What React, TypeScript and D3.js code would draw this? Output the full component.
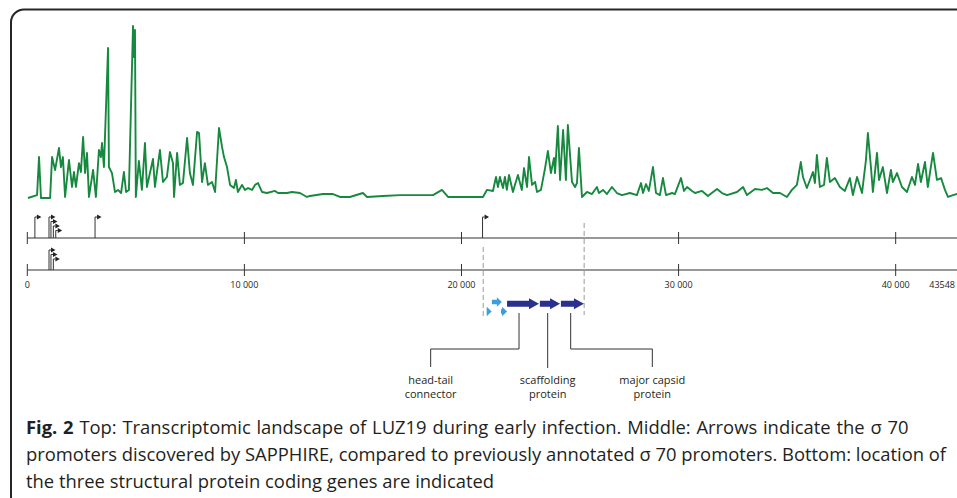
import React from 'react';
import * as d3 from 'd3';

const W = 957;
const H = 498;

const genomeLength = 43548;
const tickValues = [0, 10000, 20000, 30000, 40000];

// read-coverage trace of LUZ19 early infection: [position (kb), relative coverage %]
const coverage: [number, number][] = [
  [0.03, 0], [0.45, 1.7], [0.54, 23.8], [0.63, 0], [1.05, 0], [1.14, 23.8], [1.28, 16.3], [1.46, 29.1],
  [1.55, 18.0], [1.64, 23.8], [1.74, 0.6], [1.92, 22.1], [2.06, 6.4], [2.15, 15.1], [2.24, 6.4], [2.38, 20.3],
  [2.47, 15.1], [2.57, 35.5], [2.66, 14.5], [2.75, 26.2], [2.84, 0.6], [3.03, 16.3], [3.16, 0.6], [3.30, 27.9],
  [3.39, 23.8], [3.44, 32.0], [3.53, 18.0], [3.72, 87.2], [3.76, 18.0], [3.90, 14.5], [4.04, 3.5], [4.18, 4.7],
  [4.32, 2.9], [4.45, 15.1], [4.55, 3.5], [4.68, 4.7], [4.87, 100], [4.91, 82.0], [4.96, 97.7], [5.00, 0.6],
  [5.14, 21.5], [5.28, 4.7], [5.42, 32.0], [5.51, 6.4], [5.79, 22.7], [5.88, 6.4], [6.11, 27.9], [6.25, 9.3],
  [6.43, 12.2], [6.57, 26.7], [6.71, 20.3], [6.76, 0.6], [6.90, 26.2], [7.03, 7.6], [7.17, 8.7], [7.36, 34.9],
  [7.49, 14.5], [7.63, 7.6], [7.82, 38.4], [7.91, 37.8], [8.05, 9.3], [8.18, 20.3], [8.32, 7.6], [8.51, 9.3],
  [8.65, 3.5], [8.83, 40.7], [8.97, 29.7], [9.06, 23.8], [9.20, 18.0], [9.34, 7.6], [9.52, 5.8], [9.61, 10.5],
  [9.70, 3.5], [9.89, 7.6], [10.03, 4.7], [10.17, 5.8], [10.35, 4.7], [10.49, 7.6], [10.63, 8.7], [10.81, 3.5],
  [11.04, 2.9], [11.41, 4.1], [11.55, 2.9], [11.96, 2.9], [12.19, 3.5], [12.56, 2.9], [12.88, 0.6], [13.02, 1.2],
  [13.62, 2.3], [14.08, 2.3], [14.40, 0.6], [14.86, 0.6], [15.46, 2.9], [15.65, 0.6], [16.38, 1.2], [17.17, 1.7],
  [17.95, 1.7], [18.69, 1.7], [19.10, 4.7], [19.38, 0.6], [20.25, 0.6], [20.99, 0.6], [21.17, 4.7], [21.45, 4.1],
  [21.59, 12.2], [21.68, 6.4], [21.77, 12.2], [21.91, 5.8], [22.00, 12.2], [22.09, 4.7], [22.19, 13.4], [22.37, 3.5],
  [22.46, 7.6], [22.60, 13.4], [22.78, 4.7], [22.88, 17.4], [23.02, 6.4], [23.11, 23.8], [23.25, 7.6], [23.39, 9.3],
  [23.48, 3.5], [23.66, 4.7], [23.85, 17.4], [23.98, 27.3], [24.12, 14.5], [24.26, 23.3], [24.31, 14.5], [24.44, 41.9],
  [24.54, 10.5], [24.68, 39.5], [24.81, 10.5], [24.90, 42.4], [25.09, 9.3], [25.23, 6.4], [25.32, 8.7], [25.41, 29.1],
  [25.55, 0.6], [25.78, 3.5], [26.01, 2.3], [26.24, 6.4], [26.33, 2.9], [26.52, 4.7], [26.70, 2.3], [26.93, 6.4],
  [27.16, 2.9], [27.39, 1.7], [27.76, 2.9], [28.08, 1.7], [28.27, 8.7], [28.36, 2.9], [28.50, 8.1], [28.63, 4.1],
  [28.82, 18.0], [28.96, 2.9], [29.14, 1.7], [29.28, 11.6], [29.42, 1.7], [29.70, 2.9], [29.83, 2.3], [30.11, 11.6],
  [30.25, 4.1], [30.39, 6.4], [30.62, 4.1], [30.76, 2.9], [31.08, 4.1], [31.35, 1.2], [31.77, 5.2], [32.00, 2.9],
  [32.23, 1.7], [32.69, 3.5], [32.97, 6.4], [33.15, 1.7], [33.52, 5.2], [33.84, 4.7], [34.07, 5.8], [34.35, 2.9],
  [34.67, 2.9], [34.99, 0.6], [35.22, 4.7], [35.45, 7.6], [35.63, 20.9], [35.73, 12.2], [35.91, 5.8], [36.19, 15.1],
  [36.28, 8.7], [36.37, 25.0], [36.51, 6.4], [36.70, 7.6], [36.83, 23.3], [36.97, 9.3], [37.20, 11.6], [37.43, 6.4],
  [37.66, 4.1], [37.89, 11.6], [38.03, 1.7], [38.22, 12.2], [38.45, 2.9], [38.63, 22.1], [38.72, 37.8], [38.86, 18.0],
  [38.95, 3.5], [39.14, 26.2], [39.23, 10.5], [39.41, 18.0], [39.60, 2.9], [39.78, 16.3], [39.87, 9.3], [40.06, 14.5],
  [40.29, 6.4], [40.52, 3.5], [40.75, 12.2], [40.89, 7.6], [41.03, 19.8], [41.16, 9.3], [41.35, 20.9], [41.48, 6.4],
  [41.72, 26.2], [41.90, 10.5], [42.09, 11.6], [42.27, 4.7], [42.41, 0.6], [42.64, 1.7], [42.83, 2.3], [43.5, 2.3],
];

// sigma 70 promoter positions (kb)
const sapphirePromoters = [0.35, 1.0, 1.09, 1.2, 1.31, 3.12, 20.97];
const annotatedPromoters = [1.0, 1.09, 1.2];

// early genes upstream of the structural block (kb), row 0 = upper
const earlyGenes = [
  { start: 21.16, end: 21.39, row: 1 },
  { start: 21.40, end: 21.86, row: 0 },
  { start: 21.82, end: 22.10, row: 1 },
];

const structuralGenes = [
  { label: ['head-tail', 'connector'], start: 22.1, end: 23.57, anchor: 22.65, labelAt: 18.58 },
  { label: ['scaffolding', 'protein'], start: 23.61, end: 24.54, anchor: 23.97, labelAt: 23.97 },
  { label: ['major capsid', 'protein'], start: 24.58, end: 25.64, anchor: 25.03, labelAt: 28.79 },
];

const dashedMarks = [
  { pos: 21.0, y0: 247, y1: 317 },
  { pos: 25.65, y0: 223, y1: 315 },
];

const captionBold = 'Fig. 2';
const captionLines = [
  ' Top: Transcriptomic landscape of LUZ19 during early infection. Middle: Arrows indicate the σ 70',
  'promoters discovered by SAPPHIRE, compared to previously annotated σ 70 promoters. Bottom: location of',
  'the three structural protein coding genes are indicated',
];

const FONT = "'Open Sans', 'Noto Sans', sans-serif";
const INK = '#231f20';

const x = d3.scaleLinear().domain([0, genomeLength]).range([27.3, 972.7]);
const xk = (kb: number) => x(kb * 1000);
const y = d3.scaleLinear().domain([0, 100]).range([198, 26]);

const fmt = (v: number) => d3.format(',')(v).replace(/,/g, ' ');

function levels(list: number[]) {
  // stack promoters that sit close together
  const out: number[] = [];
  list.forEach((p, i) => {
    out.push(i > 0 && p - list[i - 1] < 0.5 ? out[i - 1] + 1 : 0);
  });
  return out;
}

function Track({ axisY, promoters, rise, ticks }: { axisY: number; promoters: number[]; rise: number; ticks: boolean }) {
  const lv = levels(promoters);
  return (
    <g>
      <line x1={x(0)} x2={W + 5} y1={axisY} y2={axisY} stroke="#333" strokeWidth={1.1} />
      {tickValues.map(t => (
        <line key={t} x1={x(t)} x2={x(t)} y1={axisY - 6} y2={axisY + 6} stroke="#333" strokeWidth={1} />
      ))}
      {promoters.map((p, i) => {
        const px = xk(p);
        const top = axisY - rise + lv[i] * 4.5;
        return (
          <g key={i}>
            <path d={`M${px},${axisY}V${top}H${px + 2}`} fill="none" stroke="#333" strokeWidth={1} />
            <path d={`M${px + 2},${top - 2.6}L${px + 6.5},${top}L${px + 2},${top + 2.6}Z`} fill="#222" />
          </g>
        );
      })}
      {ticks && tickValues.map(t => (
        <text key={t} x={x(t)} y={axisY + 17.5} textAnchor="middle" fontSize={9} fontFamily={FONT} fill={INK}>{fmt(t)}</text>
      ))}
      {ticks && (
        <text x={Math.min(x(genomeLength) - 10, W - 2)} y={axisY + 17.5} textAnchor="end" fontSize={9} fontFamily={FONT} fill={INK}>{genomeLength}</text>
      )}
    </g>
  );
}

function arrowPath(x0: number, x1: number, cy: number, bodyH: number, headH: number, headL: number) {
  const hx = Math.max(x0, x1 - headL);
  return `M${x0},${cy - bodyH}H${hx}V${cy - headH}L${x1},${cy}L${hx},${cy + headH}V${cy + bodyH}H${x0}Z`;
}

export default function App() {
  const line = d3.line<[number, number]>()
    .x(d => xk(d[0]))
    .y(d => y(d[1]))
    .curve(d3.curveLinear);

  const geneY = 303.8;

  return (
    <svg width={W} height={H} style={{ position: 'absolute', left: 0, top: 0, background: '#fff' }}>
      <rect x={11} y={9.5} width={1000} height={500} rx={13} fill="none" stroke="#262626" strokeWidth={2} />

      <path d={line(coverage) || ''} fill="none" stroke="#17893f" strokeWidth={1.9} strokeLinejoin="round" />

      <Track axisY={238} promoters={sapphirePromoters} rise={21} ticks={false} />
      <Track axisY={270} promoters={annotatedPromoters} rise={20} ticks={true} />

      {dashedMarks.map((d, i) => (
        <line key={i} x1={xk(d.pos)} x2={xk(d.pos)} y1={d.y0} y2={d.y1} stroke="#9a9a9a" strokeWidth={1} strokeDasharray="5,3" />
      ))}

      {earlyGenes.map((g, i) => (
        <path key={i} d={arrowPath(xk(g.start), xk(g.end), g.row === 0 ? 302 : 311.5, 2.3, 4.8, 5)} fill="#3b9fdc" />
      ))}

      {structuralGenes.map((g, i) => (
        <path key={i} d={arrowPath(xk(g.start), xk(g.end), geneY, 3, 5.5, 10)} fill="#2b2f8e" />
      ))}

      {structuralGenes.map((g, i) => {
        const ax = xk(g.anchor);
        const lx = xk(g.labelAt);
        const d = Math.abs(ax - lx) < 1
          ? `M${ax},313V368`
          : `M${ax},313V349H${lx}V367`;
        return (
          <g key={i}>
            <path d={d} fill="none" stroke="#333" strokeWidth={1} />
            {g.label.map((t, j) => (
              <text key={j} x={lx} y={384 + j * 14} textAnchor="middle" fontSize={11} fontFamily={FONT} fill={INK}>{t}</text>
            ))}
          </g>
        );
      })}

      <g fontFamily={FONT} fontSize={18.4} fill={INK}>
        {captionLines.map((t, i) => (
          <text key={i} x={26} y={434 + i * 27} wordSpacing={i === 0 ? 1 : 0}>
            {i === 0 && <tspan fontWeight="bold">{captionBold}</tspan>}
            <tspan>{t}</tspan>
          </text>
        ))}
      </g>
    </svg>
  );
}
